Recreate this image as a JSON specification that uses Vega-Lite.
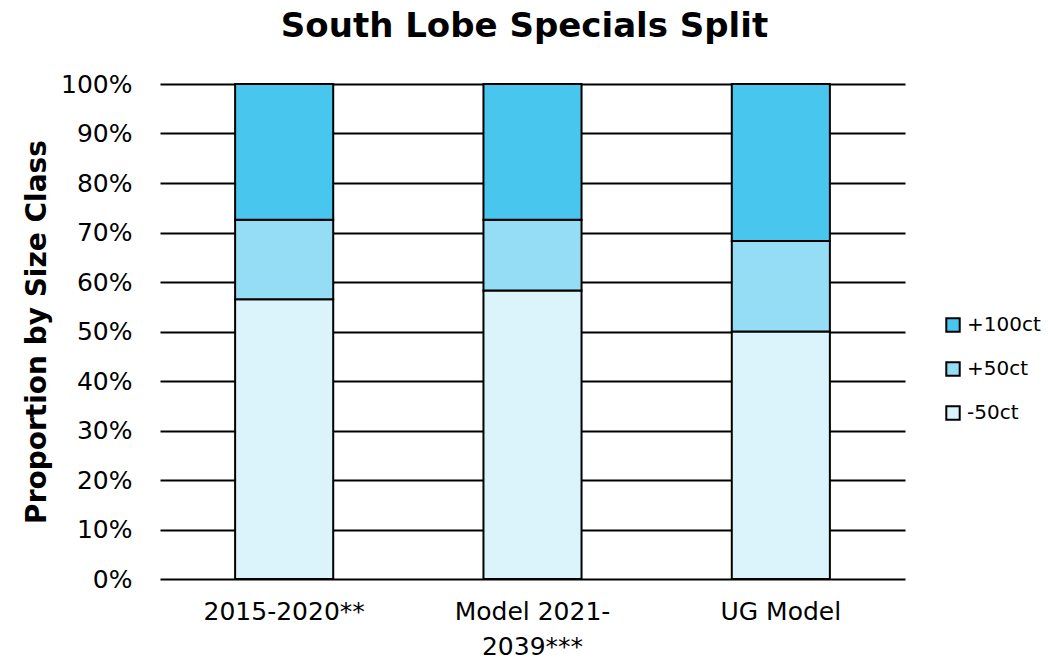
{
  "$schema": "https://vega.github.io/schema/vega-lite/v6.json",
  "width": 745,
  "height": 495,
  "autosize": {"type": "none"},
  "padding": {"left": 160, "top": 84, "right": 143, "bottom": 85},
  "background": "white",
  "title": {
    "text": "South Lobe Specials Split",
    "font": "DejaVu Sans",
    "fontSize": 34,
    "fontWeight": "bold",
    "color": "black",
    "anchor": "middle",
    "offset": 28,
    "dx": -8
  },
  "data": {
    "values": [
      {"period": "2015-2020**", "size": "-50ct", "ord": 1, "share": 0.565},
      {"period": "2015-2020**", "size": "+50ct", "ord": 2, "share": 0.161},
      {"period": "2015-2020**", "size": "+100ct", "ord": 3, "share": 0.274},
      {"period": "Model 2021-2039***", "size": "-50ct", "ord": 1, "share": 0.583},
      {"period": "Model 2021-2039***", "size": "+50ct", "ord": 2, "share": 0.143},
      {"period": "Model 2021-2039***", "size": "+100ct", "ord": 3, "share": 0.274},
      {"period": "UG Model", "size": "-50ct", "ord": 1, "share": 0.500},
      {"period": "UG Model", "size": "+50ct", "ord": 2, "share": 0.183},
      {"period": "UG Model", "size": "+100ct", "ord": 3, "share": 0.317}
    ]
  },
  "mark": {"type": "bar", "stroke": "black", "strokeWidth": 2},
  "encoding": {
    "x": {
      "field": "period",
      "type": "nominal",
      "sort": null,
      "title": null,
      "scale": {"paddingInner": 0.605, "paddingOuter": 0.3025},
      "axis": {
        "labelAngle": 0,
        "labelFont": "DejaVu Sans",
        "labelFontSize": 25,
        "labelColor": "black",
        "labelPadding": 20,
        "labelLineHeight": 35,
        "ticks": false,
        "domain": false,
        "labelExpr": "datum.label == 'Model 2021-2039***' ? ['Model 2021-', '2039***'] : datum.label"
      }
    },
    "y": {
      "field": "share",
      "type": "quantitative",
      "stack": "zero",
      "title": "Proportion by Size Class",
      "scale": {"domain": [0, 1]},
      "axis": {
        "format": ".0%",
        "values": [0, 0.1, 0.2, 0.3, 0.4, 0.5, 0.6, 0.7, 0.8, 0.9, 1],
        "labelFont": "DejaVu Sans",
        "labelFontSize": 25,
        "labelColor": "black",
        "labelPadding": 28,
        "ticks": false,
        "domain": false,
        "grid": true,
        "gridColor": "black",
        "gridWidth": 2,
        "gridOpacity": 1,
        "titleFont": "DejaVu Sans",
        "titleFontSize": 28,
        "titleFontWeight": "bold",
        "titleColor": "black",
        "titlePadding": 9
      }
    },
    "color": {
      "field": "size",
      "type": "nominal",
      "scale": {
        "domain": ["+100ct", "+50ct", "-50ct"],
        "range": ["#49C6EE", "#94DDF4", "#DBF3FA"]
      },
      "legend": {
        "title": null,
        "orient": "none",
        "legendX": 783,
        "legendY": 231,
        "symbolType": "square",
        "symbolSize": 180,
        "symbolStrokeColor": "black",
        "symbolStrokeWidth": 2,
        "labelFont": "DejaVu Sans",
        "labelFontSize": 20,
        "labelColor": "black",
        "labelOffset": 4,
        "rowPadding": 22
      }
    },
    "order": {"field": "ord", "type": "quantitative"}
  },
  "config": {"view": {"stroke": null}}
}
